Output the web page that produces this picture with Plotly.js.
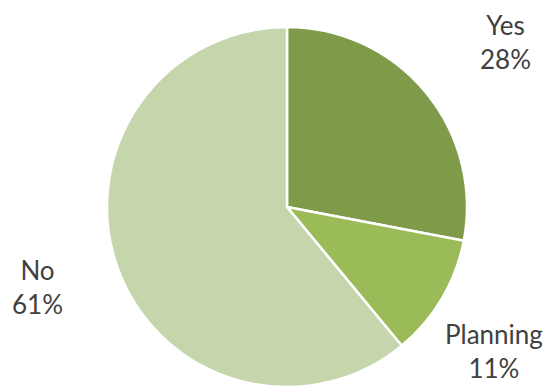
<!DOCTYPE html>
<html>
<head>
<meta charset="utf-8">
<script src="https://cdn.plot.ly/plotly-3.0.1.min.js"></script>
<style>html,body{margin:0;padding:0;background:#fff;}#chart{width:546px;height:387px;}</style>
</head>
<body>
<div id="chart"></div>
<script>
const categories = ["Yes", "Planning", "No"];
const values = [28, 11, 61];
const colors = ["#7f9a48", "#9bbb59", "#c5d6ad"];

// label anchor positions (paper coords)
const labelX = [0.925, 0.905, 0.068];
const labelY = [0.891, 0.092, 0.258];

const total = values.reduce((a, b) => a + b, 0);
const annotations = categories.map((c, i) => ({
  text: c + "<br>" + Math.round(values[i] / total * 100) + "%",
  xref: "paper", yref: "paper",
  x: labelX[i], y: labelY[i],
  xanchor: "center", yanchor: "middle",
  showarrow: false,
  font: {family: "Lato, 'Open Sans', sans-serif", size: 26, color: "#404040"}
}));

const trace = {
  type: "pie",
  labels: categories,
  values: values,
  sort: false,
  direction: "clockwise",
  rotation: 0,
  textinfo: "none",
  hoverinfo: "label+percent",
  marker: {colors: colors, line: {color: "#ffffff", width: 2.5}},
  domain: {x: [107/546, 467/546], y: [0, 360/387]}
};

Plotly.newPlot("chart", [trace], {
  width: 546, height: 387,
  margin: {l: 0, r: 0, t: 0, b: 0},
  showlegend: false,
  paper_bgcolor: "#ffffff",
  annotations: annotations
}, {displayModeBar: false, staticPlot: true});
</script>
</body>
</html>
